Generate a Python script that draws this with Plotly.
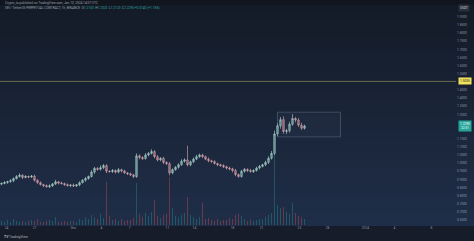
import plotly.graph_objects as go

# ---------------- data ----------------
close = [0.875, 0.881, 0.886, 0.892, 0.905, 0.918, 0.926, 0.912, 0.918, 0.915,
         0.920, 0.895, 0.880, 0.868, 0.862, 0.855, 0.860, 0.872, 0.885, 0.878,
         0.874, 0.868, 0.862, 0.865, 0.860, 0.866, 0.880, 0.895, 0.905, 0.918,
         0.945, 0.968, 0.962, 0.972, 0.985, 0.950, 0.948, 0.955, 0.945, 0.960,
         0.952, 0.940, 0.935, 0.928, 0.918, 1.045, 1.035, 1.028, 1.050, 1.060,
         1.072, 1.040, 1.020, 1.030, 1.005, 0.997, 0.940, 0.960, 0.975, 0.990,
         1.012, 1.020, 0.990, 1.008, 1.025, 1.040, 1.050, 1.040, 1.025, 1.015,
         1.010, 0.998, 0.990, 0.985, 0.978, 0.970, 0.965, 0.955, 0.930, 0.918,
         0.950, 0.962, 0.955, 0.948, 0.955, 0.970, 0.980, 0.990, 1.005, 1.030,
         1.060, 1.180, 1.230, 1.268, 1.195, 1.200, 1.240, 1.275, 1.265, 1.235,
         1.215, 1.229]
up_wick = [0.006, 0.008, 0.005, 0.010, 0.007, 0.009, 0.012, 0.006, 0.008, 0.005,
           0.007, 0.009, 0.006, 0.008, 0.005, 0.007, 0.010, 0.006, 0.012, 0.005,
           0.008, 0.006, 0.007, 0.005, 0.009, 0.006, 0.008, 0.007, 0.010, 0.006,
           0.012, 0.009, 0.008, 0.015, 0.010, 0.008, 0.006, 0.009, 0.007, 0.010,
           0.006, 0.008, 0.005, 0.007, 0.006, 0.015, 0.010, 0.008, 0.012, 0.009,
           0.014, 0.008, 0.010, 0.007, 0.009, 0.006, 0.010, 0.008, 0.007, 0.009,
           0.012, 0.010, 0.087, 0.008, 0.010, 0.012, 0.009, 0.008, 0.007, 0.010,
           0.006, 0.008, 0.005, 0.007, 0.009, 0.006, 0.008, 0.007, 0.010, 0.006,
           0.009, 0.008, 0.006, 0.010, 0.007, 0.008, 0.009, 0.006, 0.010, 0.012,
           0.015, 0.020, 0.016, 0.016, 0.020, 0.012, 0.015, 0.027, 0.010, 0.012,
           0.014, 0.008]
dn_wick = [0.007, 0.005, 0.008, 0.006, 0.009, 0.006, 0.007, 0.010, 0.005, 0.008,
           0.006, 0.009, 0.007, 0.006, 0.010, 0.005, 0.008, 0.006, 0.007, 0.009,
           0.005, 0.008, 0.006, 0.010, 0.007, 0.006, 0.008, 0.005, 0.009, 0.007,
           0.006, 0.010, 0.008, 0.007, 0.009, 0.012, 0.006, 0.008, 0.010, 0.007,
           0.009, 0.006, 0.008, 0.007, 0.010, 0.008, 0.012, 0.009, 0.006, 0.008,
           0.007, 0.010, 0.009, 0.008, 0.011, 0.009, 0.015, 0.008, 0.007, 0.009,
           0.006, 0.008, 0.010, 0.009, 0.007, 0.006, 0.008, 0.009, 0.007, 0.010,
           0.008, 0.006, 0.009, 0.007, 0.008, 0.010, 0.009, 0.012, 0.010, 0.008,
           0.007, 0.009, 0.010, 0.006, 0.008, 0.007, 0.009, 0.006, 0.008, 0.010,
           0.008, 0.012, 0.015, 0.018, 0.014, 0.016, 0.012, 0.010, 0.014, 0.012,
           0.010, 0.008]
volume = [40, 30, 55, 35, 60, 45, 35, 45, 30, 40,
          50, 40, 65, 35, 30, 45, 55, 40, 80, 35,
          35, 45, 30, 45, 40, 35, 60, 55, 80, 65,
          100, 85, 60, 110, 75, 430, 90, 55, 65, 45,
          60, 40, 50, 55, 70, 420, 110, 80, 120, 90,
          130, 250, 90, 75, 100, 110, 480, 170, 90, 80,
          105, 120, 280, 100, 80, 65, 85, 220, 60, 70,
          55, 45, 60, 40, 55, 50, 70, 60, 100, 110,
          90, 60, 45, 55, 40, 50, 60, 65, 80, 105,
          120, 750, 200, 170, 180, 130, 110, 220, 120, 90,
          80, 60]
first_open = 0.871

time_tick_pos = [1.67, 11, 24, 33.3, 42.7, 55.3, 64.3, 77, 86.7, 99.3, 108.7, 121.3, 131, 143.3]
time_tick_text = ["24", "27", "Dec", "4", "7", "11", "14", "18", "21", "25", "28", "2024", "4", "8"]
price_ticks = [1.90, 1.85, 1.80, 1.75, 1.70, 1.65, 1.60, 1.55, 1.45, 1.40, 1.35, 1.30,
               1.15, 1.10, 1.05, 1.00, 0.95, 0.90, 0.85, 0.80, 0.75, 0.70, 0.65]
alert_level = 1.5035
box_x = [92, 113]
box_y = [1.162, 1.314]
countdown = "22:31"

# ---------------- derived ----------------
idx = list(range(len(close)))
open_ = [first_open] + close[:-1]
high = [max(o, c) + u for o, c, u in zip(open_, close, up_wick)]
low = [min(o, c) - d for o, c, d in zip(open_, close, dn_wick)]
vol_colors = ["rgba(38,166,154,0.35)" if c >= o else "rgba(239,83,80,0.35)"
              for o, c in zip(open_, close)]

W, H = 474, 241
ML, MR, MT, MB = 0, 18, 12, 16
PW, PH = W - ML - MR, H - MT - MB
def py(px_y):
    return (H - MB - px_y) / PH
def pxx(px_x):
    return (px_x - ML) / PW

FONT = "Roboto"
TXT = "#8b93a7"

fig = go.Figure()
fig.add_trace(go.Bar(x=idx, y=volume, marker=dict(color=vol_colors, line=dict(width=0)),
                     width=0.55, yaxis="y2", hoverinfo="skip", showlegend=False))
fig.add_trace(go.Candlestick(
    x=idx, open=open_, high=high, low=low, close=close,
    increasing=dict(line=dict(color="#b3d6d2", width=0.6), fillcolor="rgba(120,190,180,0.6)"),
    decreasing=dict(line=dict(color="#dcaab3", width=0.6), fillcolor="rgba(200,110,125,0.6)"),
    whiskerwidth=0, showlegend=False))

shapes = []
top = (20, 27, 40)
bot = (31, 46, 72)
n = 30
y_start, y_end = 5, 226
for k in range(n):
    t = k / (n - 1)
    col = tuple(int(round(a + (b - a) * t)) for a, b in zip(top, bot))
    ya = y_start + (y_end - y_start) * k / n
    yb = y_start + (y_end - y_start) * (k + 1) / n + 0.5
    shapes.append(dict(type="rect", xref="paper", yref="paper", x0=pxx(0), x1=pxx(W),
                       y0=py(yb), y1=py(ya), fillcolor="rgb(%d,%d,%d)" % col,
                       line=dict(width=0), layer="below"))
shapes.append(dict(type="rect", xref="paper", yref="paper", x0=pxx(0), x1=pxx(W),
                   y0=py(5), y1=py(0), fillcolor="#11151d", line=dict(width=0), layer="below"))
shapes.append(dict(type="rect", xref="paper", yref="paper", x0=pxx(0), x1=pxx(W),
                   y0=py(H), y1=py(226), fillcolor="#161c29", line=dict(width=0), layer="below"))
shapes.append(dict(type="line", xref="paper", yref="y", x0=0, x1=1,
                   y0=alert_level, y1=alert_level, line=dict(color="#a19c5e", width=0.6)))
shapes.append(dict(type="rect", xref="x", yref="y", x0=box_x[0], x1=box_x[1],
                   y0=box_y[0], y1=box_y[1], fillcolor="rgba(120,140,175,0.06)",
                   line=dict(color="rgba(130,145,175,0.5)", width=0.7)))

annotations = [
    dict(text="Crypto_ta published on TradingView.com, Jan 10, 2024 14:07 UTC",
         xref="paper", yref="paper", x=pxx(3), y=py(2.6), xanchor="left", yanchor="middle",
         showarrow=False, font=dict(family=FONT, size=3.2, color="#9aa1b0")),
    dict(text="SEI / TetherUS PERPETUAL CONTRACT, 1h, BINANCE  O<span style='color:#26a69a'>1.2150</span>"
              "  H<span style='color:#26a69a'>1.2320</span>  L<span style='color:#26a69a'>1.2120</span>"
              "  C<span style='color:#26a69a'>1.2290 +0.0140 (+1.15%)</span>",
         xref="paper", yref="paper", x=pxx(3), y=py(7.5), xanchor="left", yanchor="middle",
         showarrow=False, font=dict(family=FONT, size=3.2, color="#9aa1b0")),
    dict(text="USDT", xref="paper", yref="paper", x=pxx(464), y=py(8), xanchor="center",
         yanchor="middle", showarrow=False, bgcolor="#2a2f3b", borderpad=1,
         font=dict(family=FONT, size=3.2, color="#d1d4dc")),
    dict(text="%.4f" % alert_level, xref="paper", yref="y", x=pxx(458), y=alert_level,
         xanchor="left", yanchor="middle", showarrow=False, bgcolor="#f2e25c", borderpad=1,
         font=dict(family=FONT, size=3.2, color="#131722")),
    dict(text="%.4f<br>%s" % (close[-1], countdown), xref="paper", yref="y", x=pxx(458),
         y=close[-1], xanchor="left", yanchor="middle", showarrow=False, bgcolor="#26a69a",
         borderpad=1, font=dict(family=FONT, size=3.2, color="#ffffff")),
    dict(text="<b>TV</b> TradingView", xref="paper", yref="paper", x=pxx(2), y=py(237),
         xanchor="left", yanchor="middle", showarrow=False,
         font=dict(family=FONT, size=3.4, color="#b2b5be")),
]

fig.update_layout(
    width=W, height=H,
    margin=dict(l=ML, r=MR, t=MT, b=MB, pad=0),
    paper_bgcolor="#1a2436", plot_bgcolor="rgba(0,0,0,0)",
    showlegend=False, bargap=0,
    xaxis=dict(range=[-0.5, PW / 3 - 0.5], rangeslider=dict(visible=False),
               tickmode="array", tickvals=time_tick_pos, ticktext=time_tick_text,
               tickfont=dict(family=FONT, size=3.2, color=TXT), ticks="", showgrid=False,
               zeroline=False, showline=False, fixedrange=True),
    yaxis=dict(range=[0.6192, 1.9308], side="right", tickmode="array", tickvals=price_ticks,
               ticktext=["%.4f" % v for v in price_ticks],
               tickfont=dict(family=FONT, size=3.2, color=TXT), ticks="", ticklen=0,
               showgrid=False, zeroline=False, showline=False),
    yaxis2=dict(range=[0, PH * 10], overlaying="y", visible=False),
    shapes=shapes, annotations=annotations,
)

fig.write_html("out.html")
